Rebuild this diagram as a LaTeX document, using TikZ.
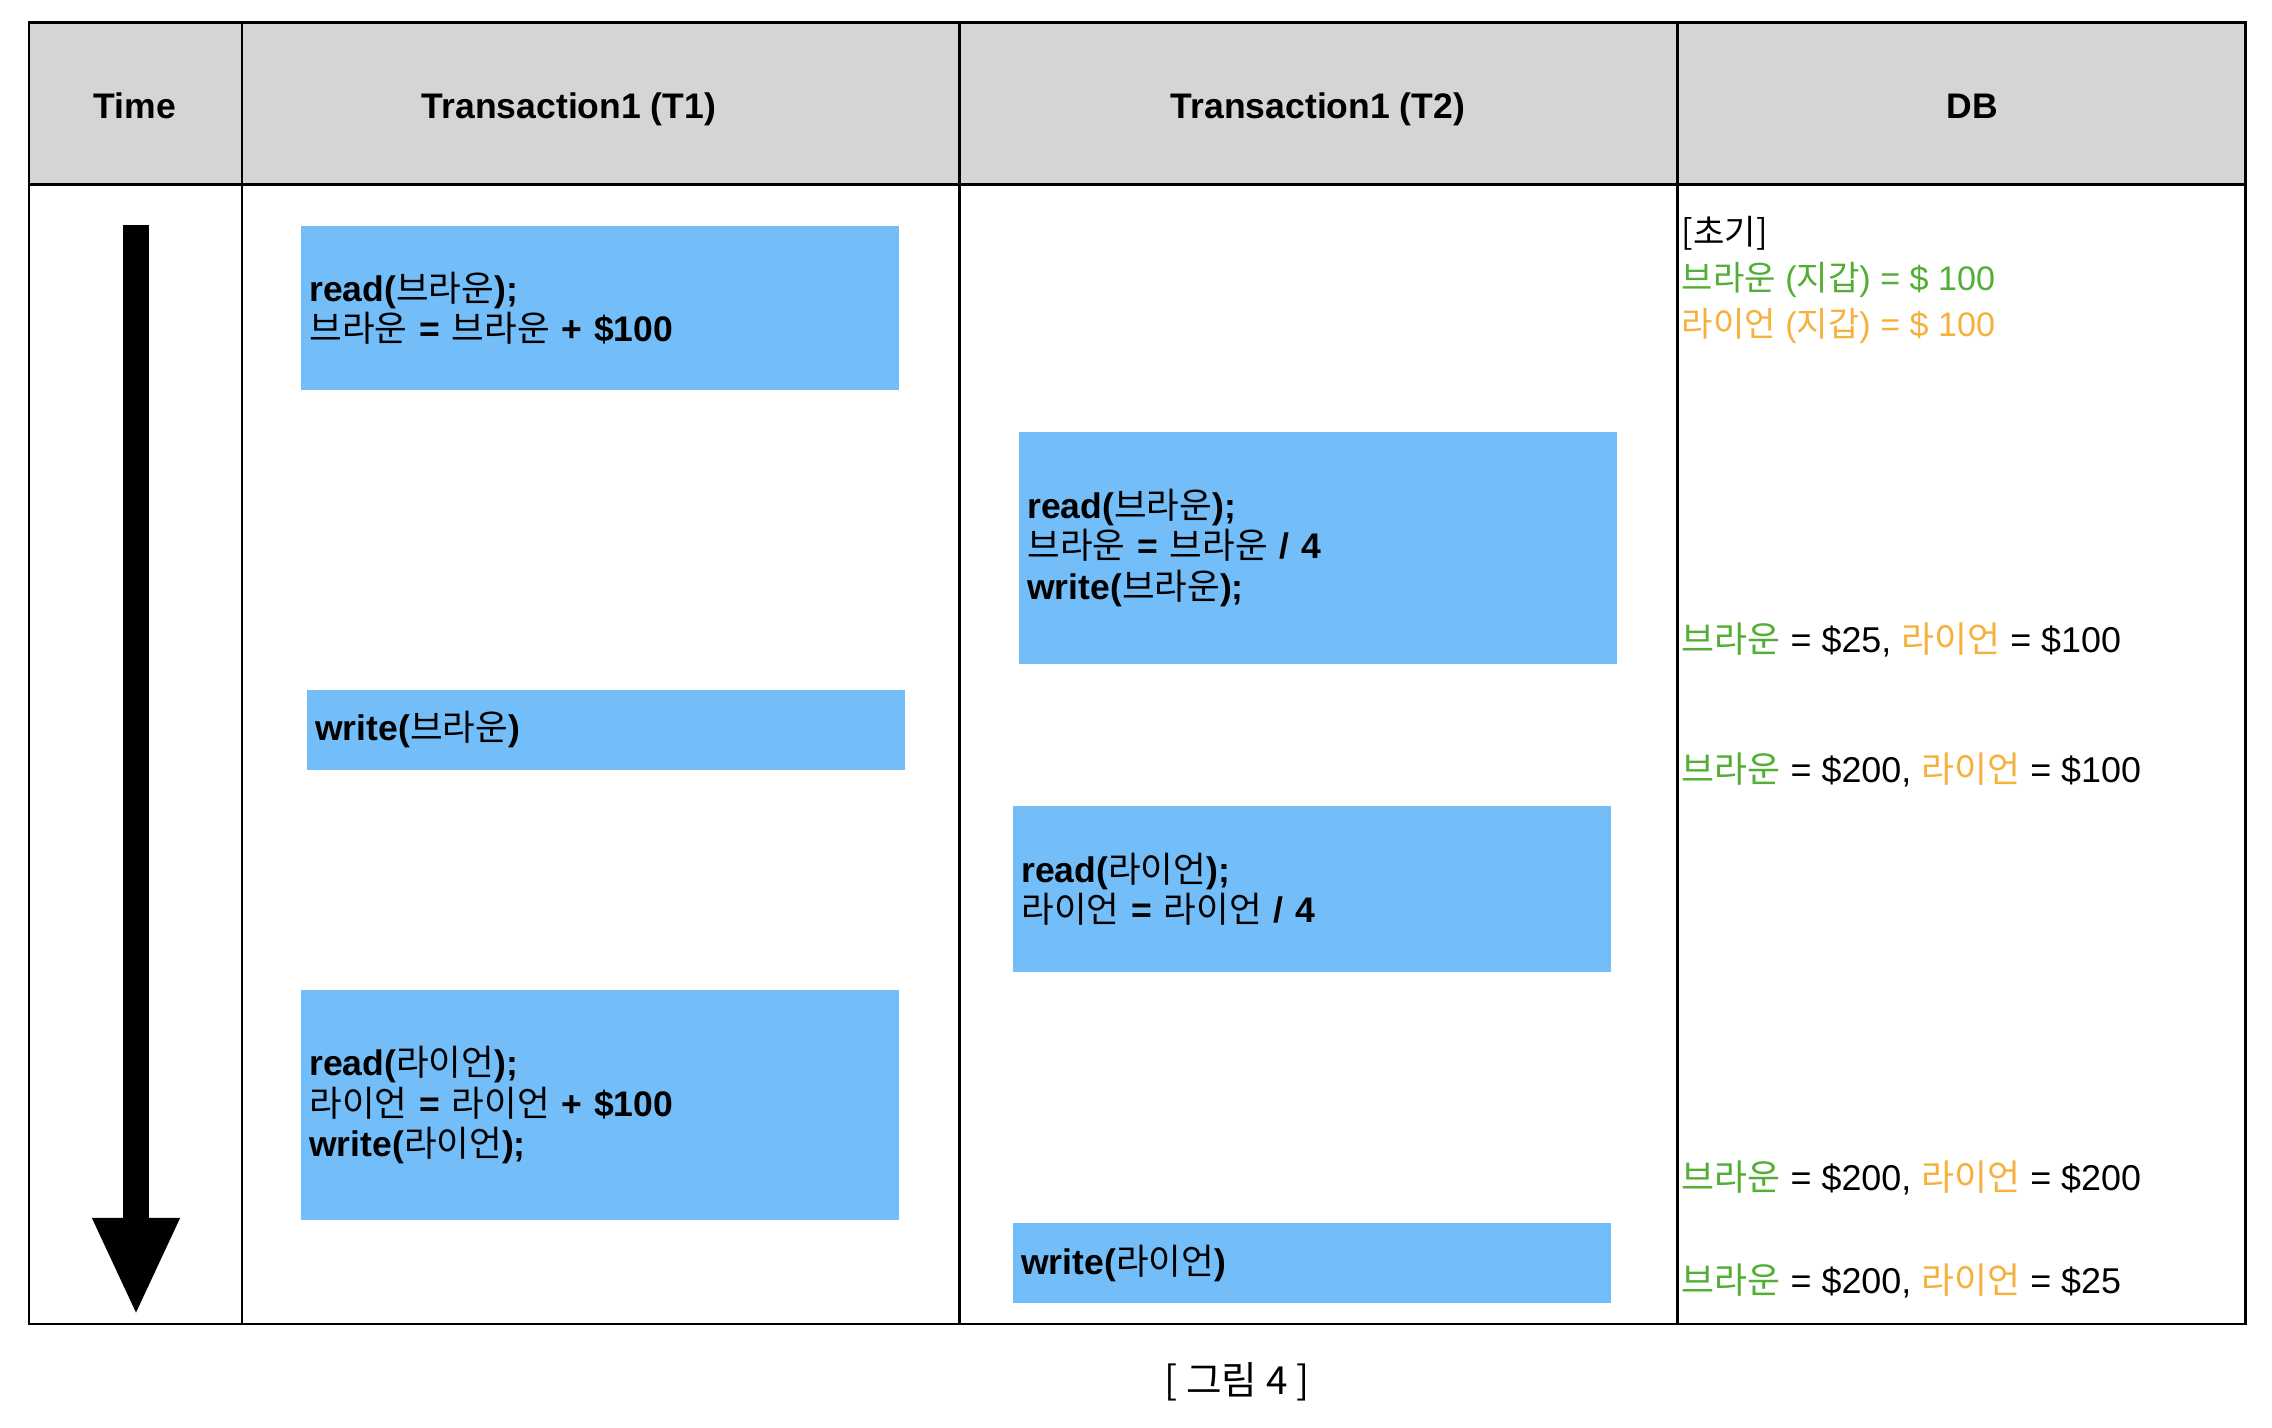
\documentclass[tikz,border=0pt]{standalone}
\usepackage{fontspec}
\setmainfont{Liberation Sans}
\newfontfamily\krfont{Noto Sans CJK KR}
\usepackage{xcolor}
\usetikzlibrary{arrows.meta,positioning}
\definecolor{headgray}{HTML}{D5D5D5}
\definecolor{opblue}{HTML}{73BEF8}
\definecolor{brgreen}{HTML}{52AE34}
\definecolor{ryorange}{HTML}{F5B13C}
\newcommand{\kr}[1]{{\krfont\mdseries #1}}
\newcommand{\krbrown}{\kr{브라운}}
\newcommand{\krryan}{\kr{라이언}}

\begin{document}
\begin{tikzpicture}[
  x=0.01cm, y=-0.01cm,
  rule/.style={line width=0.85pt},
  head/.style={font=\bfseries\fontsize{10.1}{12}\selectfont, inner sep=0pt, anchor=base},
  opbox/.style={fill=opblue, text width=5.81cm, inner sep=0.08cm, align=left, font=\bfseries\fontsize{10.1}{11.4}\selectfont},
  dbtext/.style={anchor=base west, inner sep=0pt, font=\fontsize{10.2}{12}\selectfont},
  dbinit/.style={dbtext, font=\fontsize{9.7}{12}\selectfont},
  timearrow/.style={line width=0.26cm, -{Triangle[width=0.8cm,length=0.98cm]}},
]
\useasboundingbox (0,0) rectangle (2272,1428);

% ── Table frame ──
\fill[headgray] (29,23) rectangle (2245,185);
\draw[rule] (29,23) rectangle (2245,1324);
\draw[rule] (29,185) -- (2245,185);
\foreach \xx in {242,959,1677} \draw[rule] (\xx,23) -- (\xx,1324);

% ── Header ──
\node[head] (htime) at (135,119) {Time};
\node[head] (ht1) at (569,119) {Transaction1 (T1)};
\node[head] (ht2) at (1318,119) {Transaction1 (T2)};
\node[head] (hdb) at (1972,119) {DB};

% ── Time arrow ──
\coordinate (tstart) at (136,225);
\coordinate (tend) at (136,1316);
\draw[timearrow] (tstart) -- (tend);

% ── T1 ──
\node[opbox, minimum height=1.64cm] (t1read) at (600,308) {read(\krbrown);\\\krbrown{} = \krbrown{} + \$100};
\node[opbox, minimum height=0.79cm] (t1write) at (606,730) {write(\krbrown)};
\node[opbox, minimum height=2.30cm] (t1ryan) at (600,1105) {read(\krryan);\\\krryan{} = \krryan{} + \$100\\write(\krryan);};

% ── T2 ──
\node[opbox, minimum height=2.32cm] (t2brown) at (1318,548) {read(\krbrown);\\\krbrown{} = \krbrown{} / 4\\write(\krbrown);};
\node[opbox, minimum height=1.65cm] (t2read) at (1312,889) {read(\krryan);\\\krryan{} = \krryan{} / 4};
\node[opbox, minimum height=0.80cm] (t2write) at (1312,1263) {write(\krryan)};

% ── DB ──
\node[dbinit] (dbtitle) at (1681,245) {\kr{[초기]}};
\node[dbinit, brgreen] (dbinitb) at (1681,291) {\krbrown{} (\kr{지갑}) = \$ 100};
\node[dbinit, ryorange] (dbinitr) at (1681,337) {\krryan{} (\kr{지갑}) = \$ 100};
\node[dbtext] (db1) at (1681,653) {{\color{brgreen}\krbrown} = \$25, {\color{ryorange}\krryan} = \$100};
\node[dbtext] (db2) at (1681,783) {{\color{brgreen}\krbrown} = \$200, {\color{ryorange}\krryan} = \$100};
\node[dbtext] (db3) at (1681,1190) {{\color{brgreen}\krbrown} = \$200, {\color{ryorange}\krryan} = \$200};
\node[dbtext] (db4) at (1681,1293) {{\color{brgreen}\krbrown} = \$200, {\color{ryorange}\krryan} = \$25};

% Caption
\node[font=\fontsize{11}{13}\selectfont] (caption) at (1237,1382) {\kr{[ 그림 4 ]}};
\end{tikzpicture}
\end{document}
